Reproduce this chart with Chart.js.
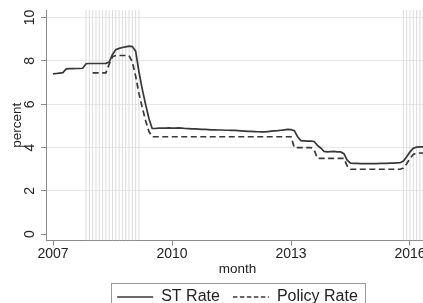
<!DOCTYPE html>
<html>
<head>
<meta charset="utf-8">
<style>
html,body{margin:0;padding:0;overflow:hidden;background:#fff;}
#wrap{width:445px;height:315px;}
</style>
<script src="https://cdn.jsdelivr.net/npm/chart.js@4/dist/chart.umd.min.js"></script>
</head>
<body>
<div id="wrap"><canvas id="c" width="445" height="315"></canvas></div>
<script>
// ---- data (monthly, first month = Jan 2007) ----
const startYear = 2007;
const stRate = [
  7.40,7.42,7.44,7.46,7.63,7.64,7.64,7.65,7.65,7.66,
  7.87,7.88,7.88,7.88,7.88,7.88,7.89,7.95,8.30,8.52,
  8.58,8.62,8.65,8.68,8.66,8.45,7.50,6.70,6.00,5.35,
  4.88,4.88,4.90,4.90,4.90,4.91,4.90,4.90,4.91,4.90,
  4.88,4.87,4.86,4.86,4.85,4.84,4.84,4.83,4.82,4.82,
  4.81,4.81,4.80,4.80,4.79,4.79,4.78,4.77,4.76,4.75,
  4.75,4.74,4.73,4.72,4.72,4.74,4.76,4.77,4.78,4.80,
  4.82,4.84,4.83,4.78,4.50,4.32,4.31,4.30,4.30,4.28,
  4.10,3.98,3.82,3.80,3.81,3.82,3.80,3.80,3.72,3.42,
  3.28,3.27,3.27,3.26,3.26,3.26,3.26,3.26,3.26,3.27,
  3.27,3.27,3.28,3.28,3.29,3.30,3.38,3.58,3.80,3.97,
  4.02,4.03,4.03
];
const policyStartMonth = 12; // Jan 2008
const policyRate = [
  7.45,7.45,7.45,7.45,7.45,
  7.85,8.20,8.25,8.25,8.25,8.25,8.25,
  7.95,7.30,6.50,5.85,5.25,4.75,
  4.5,4.5,4.5,4.5,4.5,4.5,4.5,4.5,4.5,4.5,
  4.5,4.5,4.5,4.5,4.5,4.5,4.5,4.5,4.5,4.5,
  4.5,4.5,4.5,4.5,4.5,4.5,4.5,4.5,4.5,4.5,
  4.5,4.5,4.5,4.5,4.5,4.5,4.5,4.5,4.5,4.5,
  4.5,4.5,4.5,
  4.0,4.0,4.0,4.0,4.0,4.0,3.9,
  3.5,3.5,3.5,3.5,3.5,3.5,3.5,3.5,3.5,
  3.15,
  3.0,3.0,3.0,3.0,3.0,3.0,3.0,3.0,3.0,3.0,3.0,3.0,3.0,3.0,3.0,3.0,
  3.05,3.25,3.50,3.68,3.75,3.75,3.75
];
const shadedMonths = [10,11,12,13,14,15,16,17,18,19,20,21,22,23,24,25,26,
                      106,107,108,109,110,111,112];
const yTicks = [0,2,4,6,8,10];
const xTicks = [2007,2010,2013,2016];
const seriesNames = ['ST Rate','Policy Rate'];

// ---- axis ranges ----
const X_MIN = 2006.8235, X_MAX = 2016.479;
const Y_MIN = -0.29, Y_MAX = 10.35;

const toYear = m => startYear + m / 12;
const stData = stRate.map((v, i) => ({x: toYear(i), y: v}));
const policyData = policyRate.map((v, i) => ({x: toYear(policyStartMonth + i), y: v}));
const shadeData = [];
shadedMonths.forEach(m => {
  shadeData.push({x: toYear(m), y: Y_MIN}, {x: toYear(m), y: Y_MAX}, {x: toYear(m), y: null});
});

const FONT = '"Liberation Sans", Arial, Helvetica, sans-serif';
Chart.defaults.font.family = FONT;

const legendBox = {
  id: 'legendBox',
  afterDraw(chart) {
    const hb = chart.legend && chart.legend.legendHitBoxes;
    if (!hb || !hb.length) return;
    const ctx = chart.ctx;
    const l = Math.min(...hb.map(h => h.left));
    const r = Math.max(...hb.map(h => h.left + h.width));
    const t = Math.min(...hb.map(h => h.top));
    const b = Math.max(...hb.map(h => h.top + h.height));
    ctx.save();
    ctx.strokeStyle = '#9a9a9a';
    ctx.lineWidth = 1;
    ctx.strokeRect(Math.round(l - 6) + 0.5, Math.round(t - 6) + 0.5,
                   Math.round(r - l + 13), Math.round(b - t + 12));
    ctx.restore();
  }
};

new Chart(document.getElementById('c'), {
  type: 'line',
  data: {
    datasets: [
      {label: seriesNames[0], data: stData, borderColor: '#383838', borderWidth: 1.7,
       pointRadius: 0, tension: 0, order: 1},
      {label: seriesNames[1], data: policyData, borderColor: '#383838', borderWidth: 1.7,
       borderDash: [6, 3.5], pointRadius: 0, tension: 0, order: 2},
      {label: 'shade', data: shadeData, borderColor: '#dcdcdc', borderWidth: 1,
       pointRadius: 0, spanGaps: false, order: 3}
    ]
  },
  options: {
    responsive: false,
    animation: false,
    devicePixelRatio: 1,
    layout: {padding: {left: 0, right: 16, top: 10, bottom: 0}},
    plugins: {
      tooltip: {enabled: false},
      legend: {
        position: 'bottom',
        fullSize: false,
        labels: {
          generateLabels: chart =>
            Chart.defaults.plugins.legend.labels.generateLabels(chart).map(it => {
              const ds = chart.data.datasets[it.datasetIndex];
              it.lineDash = ds.borderDash ? [4.5, 2.5] : [];
              it.lineWidth = 1.5;
              return it;
            }),
          filter: item => item.text !== 'shade',
          usePointStyle: true,
          pointStyle: 'line',
          pointStyleWidth: 36,
          font: {size: 16, family: FONT},
          color: '#222',
          padding: 13
        }
      }
    },
    scales: {
      x: {
        type: 'linear',
        min: X_MIN, max: X_MAX,
        afterBuildTicks: s => { s.ticks = xTicks.map(v => ({value: v})); },
        afterFit: s => { s.paddingLeft = 0; s.paddingRight = 0; },
        grid: {drawOnChartArea: false, drawTicks: true, tickLength: 5, tickColor: '#8a8a8a'},
        border: {display: true, color: '#8a8a8a', width: 1},
        ticks: {font: {size: 14, lineHeight: 1}, color: '#222', padding: 1.5,
                maxRotation: 0, autoSkip: false, callback: v => String(v)},
        title: {display: true, text: 'month', font: {size: 13.5, lineHeight: 1},
                color: '#222', padding: {top: 0, bottom: 0}}
      },
      y: {
        min: Y_MIN, max: Y_MAX,
        afterBuildTicks: s => { s.ticks = yTicks.map(v => ({value: v})); },
        afterFit: s => { s.width = 46; s.paddingTop = 0; s.paddingBottom = 0; },
        grid: {
          color: c => (c.tick && c.tick.value === 0) ? 'rgba(0,0,0,0)' : '#e6e6e6',
          tickColor: '#8a8a8a', tickLength: 5, lineWidth: 1
        },
        border: {display: true, color: '#8a8a8a', width: 1},
        ticks: {minRotation: 90, maxRotation: 90, crossAlign: 'center', padding: 3,
                font: {size: 14, lineHeight: 1}, color: '#222', callback: v => String(v)},
        title: {display: true, text: 'percent', font: {size: 13.5, lineHeight: 1},
                color: '#222', padding: {top: 10.25, bottom: 0}}
      }
    }
  },
  plugins: [legendBox]
});
</script>
</body>
</html>
